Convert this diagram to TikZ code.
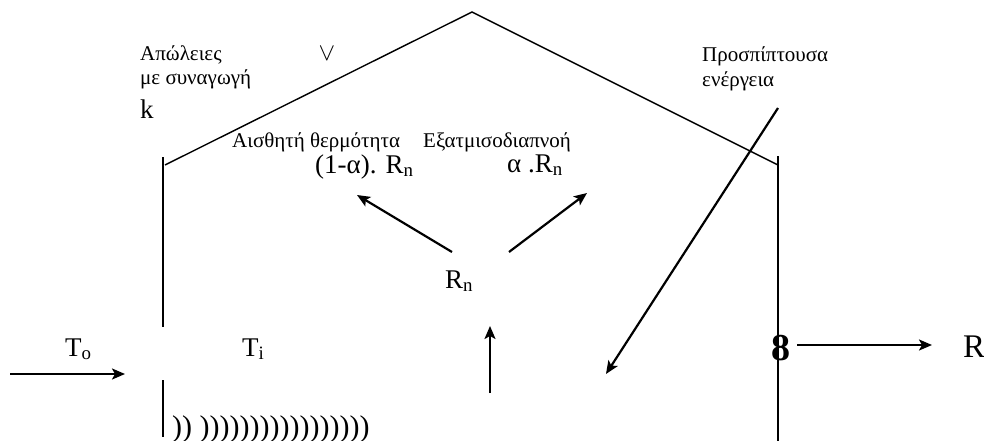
\documentclass[tikz,border=0pt]{standalone}
\usepackage{fontspec}
\setmainfont{Liberation Serif}
\usetikzlibrary{arrows.meta}

\tikzset{
  wall/.style={line width=1.4pt},
  flow/.style={line width=2.2pt, -{Stealth[length=13pt,width=11pt,inset=3pt]}},
  lbl/.style={inner sep=0pt, anchor=base west, font=\fontsize{21}{24}\selectfont},
  qty/.style={inner sep=0pt, anchor=base west, font=\fontsize{27}{30}\selectfont},
}

\begin{document}
\begin{tikzpicture}[x=1pt, y=-1pt]
    \useasboundingbox (0,0) rectangle (984,441);

    % --- Roof and walls ---
    \draw[wall] (165,165) -- (472,12) -- (778,165);
    \draw[wall] (163,157) -- (163,327);
    \draw[wall] (163,380) -- (163,437);
    \draw[wall] (778,156) -- (778,441);

    % --- Labels top left ---
    \node[lbl] (loss1) at (140,61) {Απώλειες};
    \node[lbl] (loss2) at (140,85) {με συναγωγή};
    \node[qty] (k) at (140,118) {k};
    \node[inner sep=0pt, font=\fontsize{24}{28}\selectfont] (vee) at (327,54) {$\vee$};

    % --- Labels top right ---
    \node[lbl] (inc1) at (702,62) {Προσπίπτουσα};
    \node[lbl] (inc2) at (702,87) {ενέργεια};

    % --- Split of net radiation ---
    \node[lbl] (sensTxt) at (232,147) {Αισθητή θερμότητα};
    \node[lbl] (latTxt) at (423,147) {Εξατμισοδιαπνοή};
    \node[qty] (sens) at (315,173) {(1-α). R\textsubscript{n}};
    \node[qty] (lat) at (507,172) {α .R\textsubscript{n}};
    \node[qty] (rn) at (445,288) {R\textsubscript{n}};

    \coordinate (rnL) at (452,252);
    \coordinate (sensTip) at (357,195);
    \coordinate (rnR) at (509,252);
    \coordinate (latTip) at (587,193);
    \draw[flow] (rnL) -- (sensTip);
    \draw[flow] (rnR) -- (latTip);

    % --- Upward and incoming arrows ---
    \coordinate (upFoot) at (490,393);
    \coordinate (upTip) at (490,326);
    \draw[flow] (upFoot) -- (upTip);
    \coordinate (incTail) at (778,108);
    \coordinate (incTip) at (606,374);
    \draw[flow] (incTail) -- (incTip);

    % --- Temperatures ---
    \node[qty] (to) at (65,356) {T\textsubscript{o}};
    \node[qty] (ti) at (242,356) {T\textsubscript{i}};
    \coordinate (inTail) at (10,374);
    \coordinate (inTip) at (125,374);
    \draw[flow] (inTail) -- (inTip);

    % --- Right side output ---
    \node[inner sep=0pt, font=\fontsize{38}{40}\selectfont\bfseries] (eight) at (781,348) {8};
    \node[inner sep=0pt, anchor=base west, font=\fontsize{33}{36}\selectfont] (r) at (963,357) {R};
    \coordinate (outTail) at (797,345);
    \coordinate (outTip) at (932,345);
    \draw[flow] (outTail) -- (outTip);

    % --- Ground ---
    \node[inner sep=0pt, anchor=base west, font=\fontsize{30}{32}\selectfont] (ground) at (172,436) {)) )))))))))))))))))};

\end{tikzpicture}
\end{document}
